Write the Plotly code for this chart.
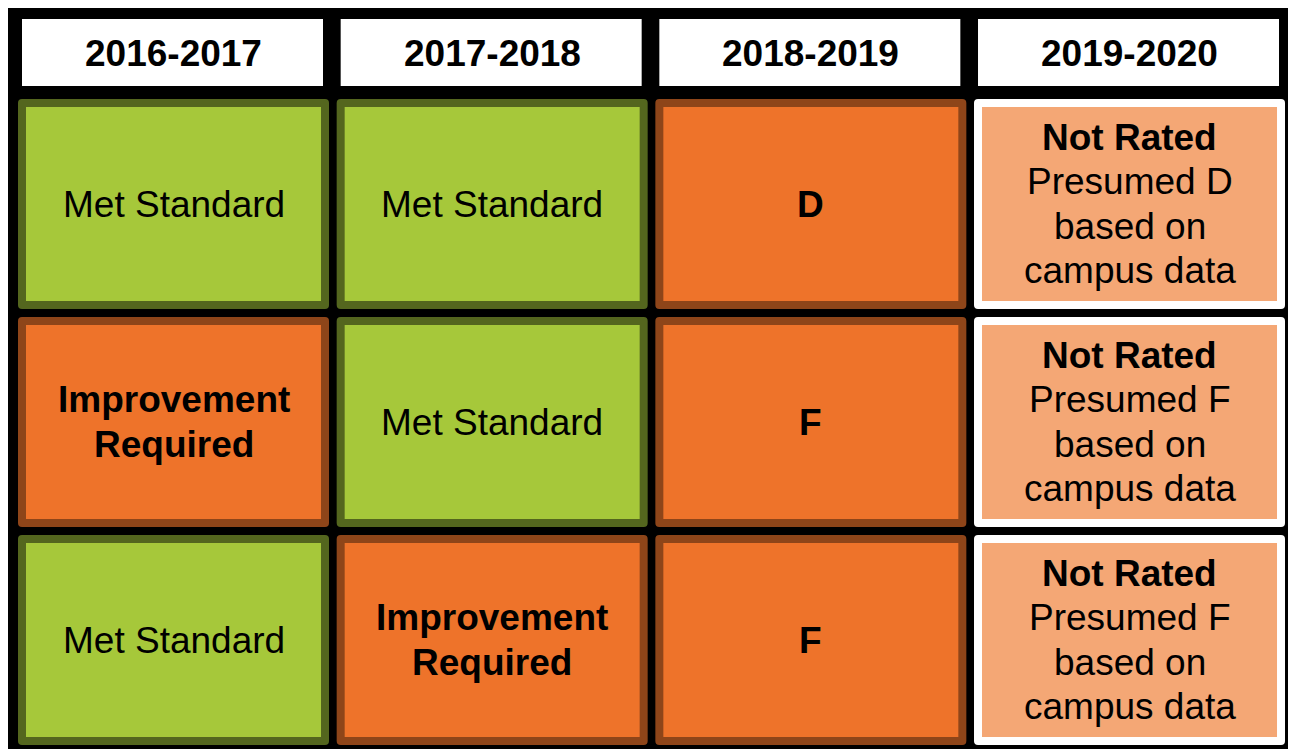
import plotly.graph_objects as go

# ---- data ----
years = ["2016-2017", "2017-2018", "2018-2019", "2019-2020"]
ratings_row1 = ["Met Standard", "Met Standard", "D", "Not Rated"]
ratings_row2 = ["Improvement Required", "Met Standard", "F", "Not Rated"]
ratings_row3 = ["Met Standard", "Improvement Required", "F", "Not Rated"]
presumed = ["D", "F", "F"]

rows = [ratings_row1, ratings_row2, ratings_row3]

# ---- styles ----
GREEN_FILL, GREEN_LINE = "#A6C83A", "#54661E"
ORANGE_FILL, ORANGE_LINE = "#EE732A", "#8E4519"
SALMON_FILL, WHITE = "#F4A775", "#FFFFFF"
FONT = "Liberation Sans, Arial, sans-serif"
FS = 37

PAGE_W, PAGE_H = 1296, 751
BODY_MARGIN = 8  # default page margin around the plot div
COL_LEFT, COL_W, COL_PITCH = 18, 311, 318.67
ROW_TOP, ROW_H, ROW_PITCH = 99, 210, 218
HEAD_TOP, HEAD_BOT = 19, 86
BORDER = 8
LINE_GAP = 44.5


def rrect(x0, y0, x1, y1, r):
    return (f"M {x0+r},{y0} L {x1-r},{y0} Q {x1},{y0} {x1},{y0+r} "
            f"L {x1},{y1-r} Q {x1},{y1} {x1-r},{y1} L {x0+r},{y1} "
            f"Q {x0},{y1} {x0},{y1-r} L {x0},{y0+r} Q {x0},{y0} {x0+r},{y0} Z")


def style_for(rating):
    if rating == "Met Standard":
        return GREEN_FILL, GREEN_LINE
    if rating == "Not Rated":
        return SALMON_FILL, WHITE
    return ORANGE_FILL, ORANGE_LINE


def lines_for(rating, r):
    if rating == "Met Standard":
        return ["Met Standard"]
    if rating == "Improvement Required":
        return ["<b>Improvement</b>", "<b>Required</b>"]
    if rating == "Not Rated":
        return ["<b>Not Rated</b>", f"Presumed {presumed[r]}", "based on", "campus data"]
    return [f"<b>{rating}</b>"]


shapes = []
annotations = []

# black background panel
shapes.append(dict(type="rect", xref="x", yref="y", x0=7, x1=1296, y0=3, y1=749,
                   fillcolor="black", line=dict(width=0), layer="below"))

# header cells
for c, yr in enumerate(years):
    x0 = COL_LEFT + c * COL_PITCH
    shapes.append(dict(type="rect", xref="x", yref="y", x0=x0 + 4, x1=x0 + COL_W - 6,
                       y0=HEAD_TOP, y1=HEAD_BOT, fillcolor="white", line=dict(width=0)))
    annotations.append(dict(x=x0 + COL_W / 2, y=(HEAD_TOP + HEAD_BOT) / 2 + 1, xref="x", yref="y",
                            text=f"<b>{yr}</b>", showarrow=False,
                            font=dict(family=FONT, size=FS, color="black"),
                            xanchor="center", yanchor="middle"))

# rating cells
for r, row in enumerate(rows):
    y0 = ROW_TOP + r * ROW_PITCH
    y1 = y0 + ROW_H
    for c, rating in enumerate(row):
        x0 = COL_LEFT + c * COL_PITCH
        x1 = x0 + COL_W
        fill, edge = style_for(rating)
        shapes.append(dict(type="path", xref="x", yref="y", path=rrect(x0, y0, x1, y1, 4),
                           fillcolor=edge, line=dict(width=0)))
        shapes.append(dict(type="rect", xref="x", yref="y", x0=x0 + BORDER, x1=x1 - BORDER,
                           y0=y0 + BORDER, y1=y1 - BORDER, fillcolor=fill, line=dict(width=0)))
        lines = lines_for(rating, r)
        cy = (y0 + y1) / 2
        n = len(lines)
        for i, t in enumerate(lines):
            ly = cy + (i - (n - 1) / 2) * LINE_GAP
            annotations.append(dict(x=(x0 + x1) / 2, y=ly, xref="x", yref="y", text=t,
                                    showarrow=False,
                                    font=dict(family=FONT, size=FS, color="black"),
                                    xanchor="center", yanchor="middle"))

fig = go.Figure()
fig.add_trace(go.Scatter(x=[BODY_MARGIN, PAGE_W], y=[BODY_MARGIN, PAGE_H], mode="markers",
                         marker=dict(opacity=0), hoverinfo="skip", showlegend=False))
fig.update_layout(
    width=PAGE_W - BODY_MARGIN, height=PAGE_H - BODY_MARGIN,
    margin=dict(l=0, r=0, t=0, b=0),
    paper_bgcolor="white", plot_bgcolor="white",
    xaxis=dict(range=[BODY_MARGIN, PAGE_W], visible=False, fixedrange=True),
    yaxis=dict(range=[PAGE_H, BODY_MARGIN], visible=False, fixedrange=True),
    shapes=shapes, annotations=annotations, showlegend=False,
)
fig.write_html("out.html")
